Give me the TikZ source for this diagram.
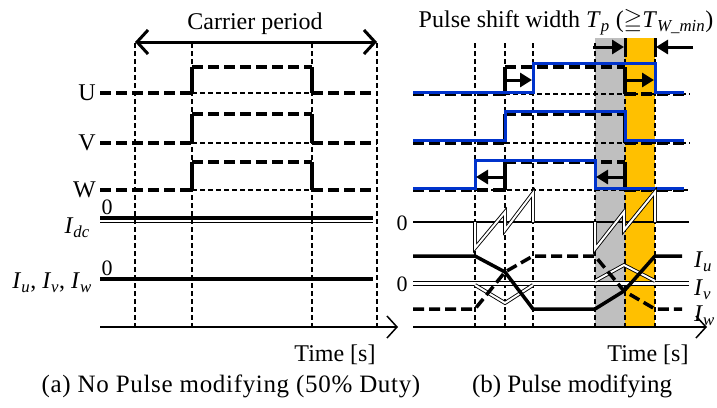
\documentclass[tikz,border=0pt]{standalone}
\usepackage{fontspec}
\usepackage{amssymb}
\setmainfont{Liberation Serif}
\usetikzlibrary{arrows.meta}
\definecolor{pulseblue}{RGB}{0,51,204}
\definecolor{bandgray}{RGB}{191,191,191}
\definecolor{bandorange}{RGB}{255,192,0}
\newcommand{\sig}[2]{\textit{#1}\textsubscript{\textit{#2}}}
\begin{document}
\begin{tikzpicture}[x=1pt,y=-1pt,
  guide/.style={line width=1.3pt, dash pattern=on 5pt off 3pt},
  gate/.style={line width=3.5pt, dash pattern=on 11pt off 5pt},
  edge/.style={line width=3.5pt},
  base/.style={line width=1.2pt, dash pattern=on 5pt off 3pt},
  bluegate/.style={pulseblue, line width=3pt},
  shiftarrow/.style={line width=3pt, -{Triangle[length=12pt,width=14pt]}},
  dline/.style={draw=black, double=white, line width=0.9pt, double distance=2pt},
  zline/.style={draw=black, double=white, line width=1pt, double distance=3pt},
  axis/.style={line width=1.5pt, -{Straight Barb[length=10pt,width=22pt]}},
  lbl/.style={font=\fontsize{24}{28}\selectfont, inner sep=0pt},
  captext/.style={font=\fontsize{25}{29}\selectfont, inner sep=0pt},
  small/.style={font=\fontsize{22}{26}\selectfont, inner sep=0pt}]
\useasboundingbox (0,0) rectangle (717,407);

% ---------- (a) no pulse modifying ----------
\foreach \x in {135,192,312,377} \draw[guide] (\x,43) -- (\x,327);
\draw[line width=3pt, {Straight Barb[length=11pt,width=24pt]}-{Straight Barb[length=11pt,width=24pt]}] (135,42) -- (377,42);
\node[lbl] (carrier) at (255,24) {Carrier period};

\foreach \lo/\hi/\name in {93/67/U,143/114/V,190/162/W}{
  \draw[gate] (100,\lo) -- (192,\lo);
  \draw[edge] (192,\lo) -- (192,\hi);
  \draw[gate] (192,\hi) -- (312,\hi);
  \draw[edge] (312,\hi) -- (312,\lo);
  \draw[gate] (312,\lo) -- (377,\lo);
  \draw[base] (192,\lo) -- (312,\lo);
  \node[lbl, anchor=east] at (96,\lo) {\name};
}

\draw[line width=3.5pt] (100,218) -- (373,218);
\draw[line width=1pt] (100,222.5) -- (373,222.5);
\node[small] at (107,207) {0};
\node[lbl, anchor=east] (idc) at (90,228) {\sig{I}{dc}};

\draw[line width=3.5pt] (100,279) -- (373,279);
\node[small] at (107,268) {0};
\node[lbl, anchor=east] (iuvw) at (92,283) {\sig{I}{u}, \sig{I}{v}, \sig{I}{w}};

\coordinate (ta0) at (100,327);
\coordinate (ta1) at (398,327);
\draw[axis] (ta0) -- (ta1);
\node[lbl] (timea) at (335,355) {Time [s]};
\node[captext] (capa) at (231,386) {\addfontfeature{LetterSpace=2.7}(a) No Pulse modifying (50\% Duty)};

% ---------- (b) pulse modifying ----------
\fill[bandgray] (595,38) rectangle (625,327);
\fill[bandorange] (625,38) rectangle (655,327);
\foreach \x in {475,505,533,595,625,655} \draw[guide] (\x,43) -- (\x,327);
\draw[line width=3pt] (625,38) -- (625,57);
\draw[line width=3pt] (655,38) -- (655,57);
\draw[shiftarrow] (593,47) -- (624,47);
\draw[shiftarrow] (693,47) -- (656,47);
\node[lbl] (shift) at (566,22) {Pulse shift width \sig{T}{p} ($\geqq$\sig{T}{W\_min})};

% original gate pulses (black dashed)
\foreach \lo/\hi in {94/67,143/114,190/162}{
  \draw[gate] (413,\lo) -- (505,\lo);
  \draw[edge] (505,\lo) -- (505,\hi);
  \draw[gate] (505,\hi) -- (625,\hi);
  \draw[edge] (625,\hi) -- (625,\lo);
  \draw[gate] (625,\lo) -- (684,\lo);
}
\draw[base] (505,94) -- (690,94);
\draw[base] (505,143) -- (690,143);
\draw[base] (475,190) -- (690,190);

% modified gate pulses (blue)
\draw[bluegate] (413,92) -- (533,92) -- (533,63) -- (655,63) -- (655,92) -- (684,92);
\draw[bluegate] (413,140) -- (505,140) -- (505,111) -- (625,111) -- (625,140) -- (684,140);
\draw[bluegate] (413,188) -- (475,188) -- (475,160) -- (595,160) -- (595,188) -- (684,188);

\draw[shiftarrow] (507,80) -- (532,80);
\draw[shiftarrow] (627,80) -- (654,80);
\draw[shiftarrow] (503,177) -- (476,177);
\draw[shiftarrow] (623,177) -- (596,177);

% dc-link current
\node[small] at (402,223) {0};
\draw[line width=1.3pt] (413,222) -- (689,222);
\draw[dline] (475,222) -- (475,248) -- (505,212) -- (505,230) -- (533,193) -- (533,222);
\draw[dline] (595,222) -- (595,249) -- (624,212) -- (624,230) -- (655,192) -- (655,222);

% phase currents
\node[small] at (402,284) {0};
\draw[zline] (413,283) -- (689,283);
\draw[dline] (475,285) -- (505,303) -- (533,285);
\draw[dline] (595,281) -- (624,265) -- (655,281);
\draw[line width=3.5pt] (413,256) -- (475,256) -- (505,272) -- (533,309) -- (595,309) -- (624,291) -- (655,256) -- (682,256);
\draw[gate] (413,309) -- (475,309) -- (505,272) -- (533,256) -- (595,256) -- (624,291) -- (655,309) -- (682,309);
\node[lbl, anchor=west] (iu) at (694,262) {\sig{I}{u}};
\node[lbl, anchor=west] (iv) at (694,290) {\sig{I}{v}};
\node[lbl, anchor=west] (iw) at (694,316) {\sig{I}{w}};

\coordinate (tb0) at (413,327);
\coordinate (tb1) at (707,327);
\draw[axis] (tb0) -- (tb1);
\node[lbl] (timeb) at (648,355) {Time [s]};
\node[captext] (capb) at (572,386) {(b) Pulse modifying};
\end{tikzpicture}
\end{document}
